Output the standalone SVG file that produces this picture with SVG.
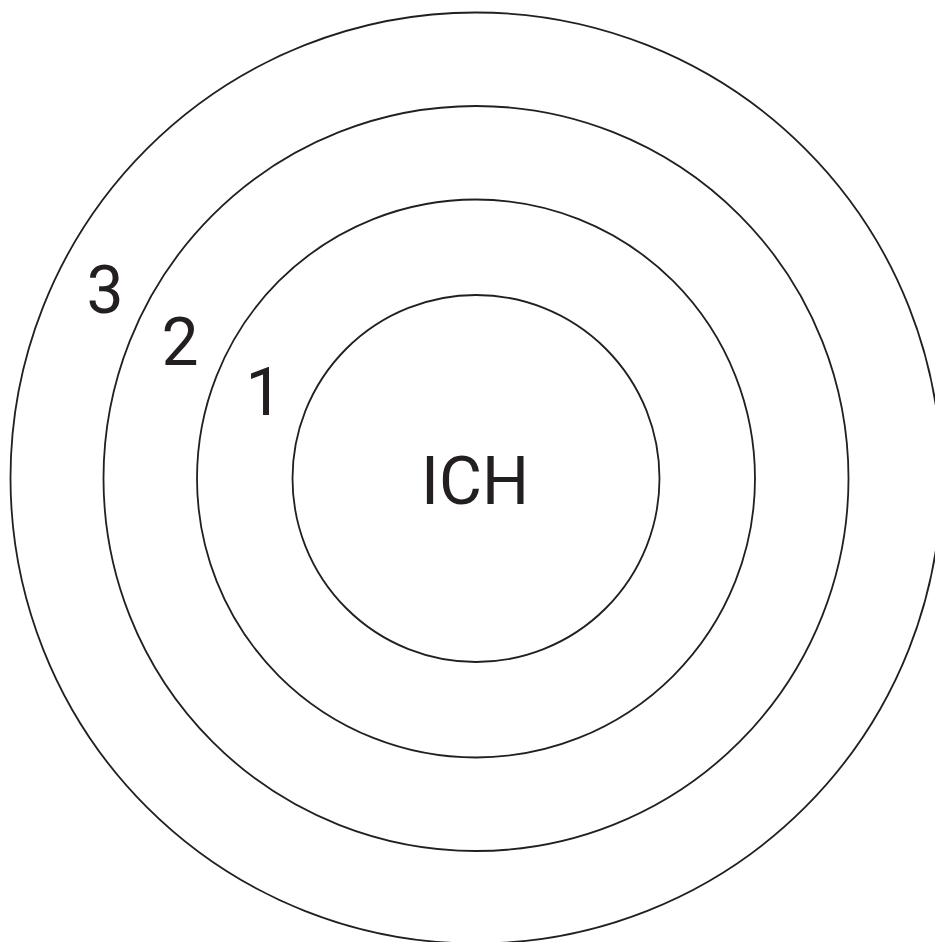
<svg xmlns="http://www.w3.org/2000/svg" width="935" height="942" viewBox="0 0 935 942">
<style>
.ring{fill:none;stroke:#231f20;stroke-width:1.8}
.lbl{font-family:Roboto,"Liberation Sans",sans-serif;font-size:66px;fill:#231f20;text-anchor:middle}
</style>
<rect width="935" height="942" fill="#ffffff"/>
<g id="ring3"><circle class="ring" cx="476" cy="478" r="465.5"/><text class="lbl" x="105" y="313">3</text></g>
<g id="ring2"><circle class="ring" cx="476" cy="478.5" r="372.5"/><text class="lbl" x="180" y="365">2</text></g>
<g id="ring1"><circle class="ring" cx="476" cy="478.5" r="279"/><text class="lbl" x="264" y="415">1</text></g>
<g id="ich"><circle class="ring" cx="476" cy="478.5" r="183.5"/><text class="lbl" x="475" y="504">ICH</text></g>
<g id="connectors"/>
</svg>
